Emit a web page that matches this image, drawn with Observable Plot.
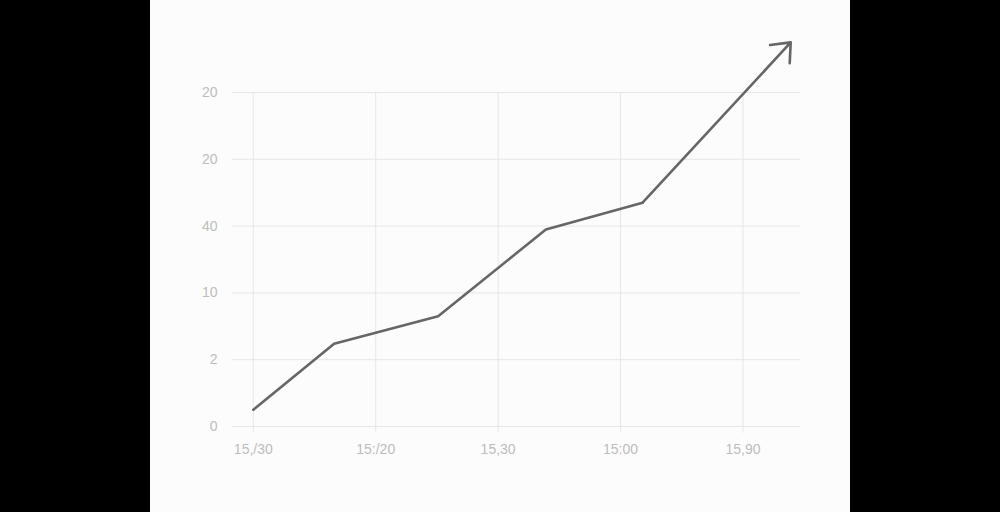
<!DOCTYPE html>
<html>
<head>
<meta charset="utf-8">
<script src="https://cdn.jsdelivr.net/npm/d3@7"></script>
<script src="https://cdn.jsdelivr.net/npm/@observablehq/plot@0.6"></script>
<style>
  html, body { margin: 0; padding: 0; background: #000; }
  #panel { position: absolute; left: 150px; top: 0; width: 700px; height: 512px; background: #fcfcfc; }
  #panel svg { display: block; }
</style>
</head>
<body>
<div id="panel"></div>
<script>
// Data
const xValues = [0, 0.66, 1.51, 2.39, 3.18, 4.39];
const yValues = [0.25, 1.24, 1.65, 2.95, 3.35, 5.75];
const xTickPositions = [0, 1, 2, 3, 4];
const xTickLabels = ["15,/30", "15:/20", "15,30", "15:00", "15,90"];
const yTickPositions = [0, 1, 2, 3, 4, 5];
const yTickLabels = ["0", "2", "10", "40", "20", "20"];

const points = xValues.map((x, i) => ({x, y: yValues[i]}));
const lineData = points.slice(0, points.length - 1);
const lastSeg = [{x1: points[points.length - 2].x, y1: points[points.length - 2].y,
                  x2: points[points.length - 1].x, y2: points[points.length - 1].y}];

const gridColor = "#e6e6e6";
const labelColor = "#bdbdbd";
const lineColor = "#666666";

const chart = Plot.plot({
  width: 700,
  height: 512,
  marginLeft: 82,
  marginRight: 50,
  marginTop: 92,
  marginBottom: 86,
  style: {background: "transparent", fontFamily: "Liberation Sans, Arial, sans-serif", fontSize: "14px"},
  x: {domain: [-0.17, 4.47], axis: null},
  y: {domain: [0, 5], axis: null},
  marks: [
    Plot.ruleY(yTickPositions, {stroke: gridColor, strokeWidth: 1}),
    Plot.ruleX(xTickPositions, {y1: 0, y2: -0.1, stroke: gridColor, strokeWidth: 1, clip: false}),
    Plot.ruleX(xTickPositions, {y1: 0, y2: 5, stroke: gridColor, strokeWidth: 1}),
    Plot.text(yTickPositions, {x: -0.17, y: d => d, text: (d, i) => yTickLabels[i], textAnchor: "end", dx: -15, fill: labelColor, fontSize: 14}),
    Plot.text(xTickPositions, {x: d => d, y: 0, text: (d, i) => xTickLabels[i], dy: 23, fill: labelColor, fontSize: 14}),
    Plot.line(lineData, {x: "x", y: "y", stroke: lineColor, strokeWidth: 2.6, strokeLinejoin: "round", strokeLinecap: "round"}),
    Plot.arrow(lastSeg, {x1: "x1", y1: "y1", x2: "x2", y2: "y2", stroke: lineColor, strokeWidth: 2.6, headLength: 12, headAngle: 80, strokeLinecap: "round", strokeLinejoin: "round"})
  ]
});
document.getElementById("panel").appendChild(chart);
</script>
</body>
</html>
